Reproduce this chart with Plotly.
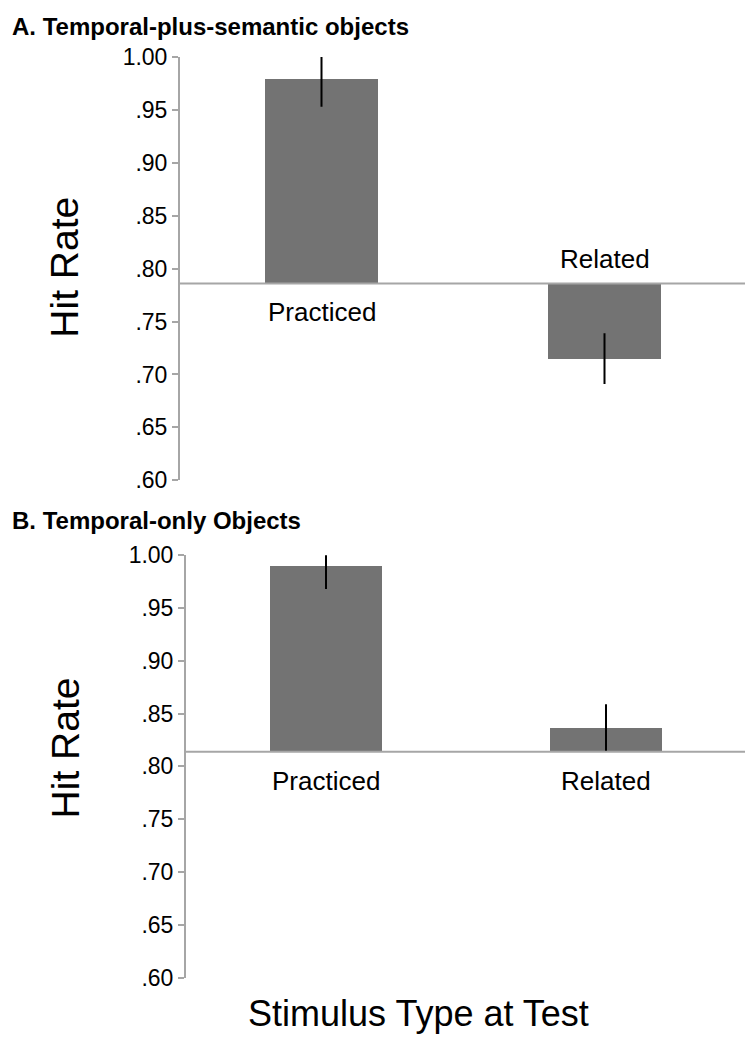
import plotly.graph_objects as go

# The page body has an 8px default margin; size the figure so the
# screenshot coordinates line up with the reference.
OFF = 8
W, H = 753 - OFF, 1050 - OFF
FONT = "Liberation Sans, Arial, sans-serif"

categories = ["Practiced", "Related"]

# Panel A: Temporal-plus-semantic objects
a_title = "A. Temporal-plus-semantic objects"
a_baseline = 0.786
a_values = [0.979, 0.715]
a_err_plus = [0.022, 0.024]
a_err_minus = [0.026, 0.024]

# Panel B: Temporal-only Objects
b_title = "B. Temporal-only Objects"
b_baseline = 0.814
b_values = [0.990, 0.836]
b_err_plus = [0.013, 0.023]
b_err_minus = [0.022, 0.022]

tick_vals = [0.60, 0.65, 0.70, 0.75, 0.80, 0.85, 0.90, 0.95, 1.00]
tick_text = [".60", ".65", ".70", ".75", ".80", ".85", ".90", ".95", "1.00"]

y_title = "Hit Rate"
x_title = "Stimulus Type at Test"

BAR_COLOR = "#737373"
AXIS_COLOR = "#a6a6a6"


def px(x):
    return (x - OFF) / W


def py(y):
    return 1 - (y - OFF) / H


fig = go.Figure()


def add_panel(values, baseline, ep, em, xa, ya):
    fig.add_trace(go.Bar(
        x=categories, y=[v - baseline for v in values], base=baseline,
        width=0.4, marker=dict(color=BAR_COLOR, line=dict(width=0)),
        xaxis=xa, yaxis=ya, showlegend=False, hoverinfo="skip"))
    fig.add_trace(go.Scatter(
        x=categories, y=values, mode="markers",
        marker=dict(size=1, color="rgba(0,0,0,0)"),
        error_y=dict(type="data", symmetric=False, array=ep, arrayminus=em,
                     color="black", thickness=2, width=0),
        xaxis=xa, yaxis=ya, showlegend=False, hoverinfo="skip"))


add_panel(a_values, a_baseline, a_err_plus, a_err_minus, "x", "y")
add_panel(b_values, b_baseline, b_err_plus, b_err_minus, "x2", "y2")

yaxis_common = dict(
    range=[0.6, 1.0], tickvals=tick_vals, ticktext=tick_text,
    showline=True, linecolor=AXIS_COLOR, linewidth=2,
    ticks="outside", ticklen=6, tickwidth=2, tickcolor=AXIS_COLOR,
    tickfont=dict(family=FONT, size=23, color="black"),
    showgrid=False, zeroline=False, fixedrange=True,
)
xaxis_common = dict(range=[-0.5, 1.5], visible=False, type="category",
                    categoryorder="array", categoryarray=categories)

fig.update_layout(
    width=W, height=H,
    margin=dict(l=0, r=0, t=0, b=0),
    paper_bgcolor="white", plot_bgcolor="white",
    bargap=0,
    xaxis=dict(domain=[px(180), px(746)], anchor="y", **xaxis_common),
    yaxis=dict(domain=[py(479), py(45)], anchor="x", **yaxis_common),
    xaxis2=dict(domain=[px(186), px(746)], anchor="y2", **xaxis_common),
    yaxis2=dict(domain=[py(989), py(556)], anchor="x2", **yaxis_common),
)

# Baselines
for xr, yr, b in [("x", "y", a_baseline), ("x2", "y2", b_baseline)]:
    fig.add_shape(type="line", xref=xr + " domain", yref=yr, x0=0, x1=1,
                  y0=b, y1=b, line=dict(color=AXIS_COLOR, width=2), layer="above")

cat_font = dict(family=FONT, size=26, color="black")
ann = []
# Panel A category labels
ann.append(dict(x="Practiced", y=a_baseline, xref="x", yref="y", text="Practiced",
                showarrow=False, yshift=-29, font=cat_font, yanchor="middle"))
ann.append(dict(x="Related", y=a_baseline, xref="x", yref="y", text="Related",
                showarrow=False, yshift=24, font=cat_font, yanchor="middle"))
# Panel B category labels
for c in categories:
    ann.append(dict(x=c, y=b_baseline, xref="x2", yref="y2", text=c,
                    showarrow=False, yshift=-29, font=cat_font, yanchor="middle"))

# Panel titles
title_font = dict(family=FONT, size=24, color="black")
ann.append(dict(x=px(10), y=py(14), xref="paper", yref="paper",
                text="<b>" + a_title + "</b>", showarrow=False,
                xanchor="left", yanchor="middle", font=title_font))
ann.append(dict(x=px(10), y=py(520), xref="paper", yref="paper",
                text="<b>" + b_title + "</b>", showarrow=False,
                xanchor="left", yanchor="middle", font=title_font))

# Y titles
ytf = dict(family=FONT, size=39, color="black")
ann.append(dict(x=px(65), y=py(261), xref="paper", yref="paper", text=y_title,
                textangle=-90, showarrow=False, xanchor="center", yanchor="middle", font=ytf))
ann.append(dict(x=px(65), y=py(754), xref="paper", yref="paper", text=y_title,
                textangle=-90, showarrow=False, xanchor="center", yanchor="middle", font=ytf))

# X title
ann.append(dict(x=px(418), y=py(1026), xref="paper", yref="paper", text=x_title,
                showarrow=False, xanchor="center", yanchor="middle",
                font=dict(family=FONT, size=36, color="black")))

fig.update_layout(annotations=ann)

fig.write_html("out.html")
